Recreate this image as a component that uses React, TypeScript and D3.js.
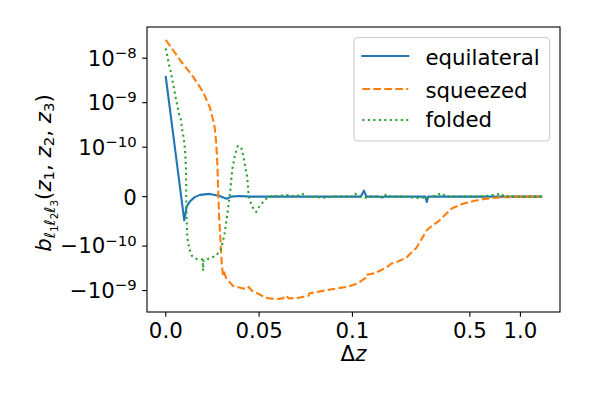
import { useEffect, useRef } from "react";
import * as d3 from "d3";

type Pt = [number, number];

// Δz, b values
const equilateral: Pt[] = [
  [0, 3.8e-9], [0.0099, -4.8e-11], [0.0112, -2e-11], [0.0129, -1e-11], [0.0155, -1e-12],
  [0.0183, 3.5e-12], [0.0236, 5.5e-12], [0.0289, 1.4e-12], [0.0325, -4.1e-12], [0.0351, 0],
  [0.0395, 1.4e-12], [0.045, 0], [0.06, 0], [0.08, 0], [0.1, 0], [0.112, 0],
  [0.117, 1.2e-11], [0.121, 0], [0.145, 0], [0.15, -2e-12], [0.155, 0], [0.2, 0],
  [0.272, 0], [0.277, -1.1e-11], [0.282, 0], [0.35, 0], [0.5, 0], [0.7, 0], [1.0, 0], [1.33, 0],
];

const squeezed: Pt[] = [
  [0, 2.57e-8], [0.0076, 9.1e-9], [0.0147, 3.8e-9], [0.02, 1.74e-9], [0.0236, 7.9e-10],
  [0.025, 4.7e-10], [0.0262, 2.8e-10], [0.027, 1.27e-10], [0.0277, 6.1e-11], [0.028, 2e-11],
  [0.0285, -3.4e-11], [0.0293, -8.9e-11], [0.03, -2.53e-10], [0.0306, -4.3e-10], [0.031, -3.6e-10],
  [0.0325, -5.5e-10], [0.034, -6.3e-10], [0.036, -7.9e-10], [0.04, -8.6e-10], [0.043, -9.3e-10],
  [0.0445, -8.3e-10], [0.046, -1.0e-9], [0.0484, -1.12e-9], [0.0537, -1.44e-9], [0.0555, -1.5e-9],
  [0.06, -1.55e-9], [0.0626, -1.5e-9], [0.0644, -1.3e-9], [0.066, -1.5e-9], [0.0714, -1.45e-9],
  [0.0765, -1.3e-9], [0.077, -1.15e-9], [0.08, -1.1e-9], [0.0891, -9.3e-10], [0.098, -8.1e-10],
  [0.108, -6.8e-10], [0.12, -5.2e-10], [0.121, -4.4e-10], [0.135, -4.1e-10], [0.15, -3.4e-10],
  [0.164, -2.8e-10], [0.17, -2.5e-10], [0.188, -2.2e-10], [0.21, -1.8e-10], [0.226, -1.35e-10],
  [0.24, -1.1e-10], [0.259, -8.5e-11], [0.277, -6.8e-11], [0.3, -5.8e-11], [0.325, -5.0e-11],
  [0.36, -3.5e-11], [0.39, -2.4e-11], [0.45, -1.5e-11], [0.512, -1.0e-11], [0.6, -5e-12],
  [0.671, -3e-12], [0.8, -1e-12], [0.925, 0], [1.33, 0],
];

const folded: Pt[] = [
  [0, 1.66e-8], [0.00085, 1.08e-8], [0.00176, 7.0e-9], [0.0027, 4.9e-9], [0.0035, 3.2e-9],
  [0.0044, 2.1e-9], [0.0053, 1.3e-9], [0.0062, 8.6e-10], [0.0071, 5.6e-10], [0.008, 4.3e-10],
  [0.0088, 2.5e-10], [0.0097, 1.5e-10], [0.0103, 9.5e-11], [0.0106, 7.5e-11], [0.0108, 5.9e-11],
  [0.0109, 3.4e-11], [0.011, -7e-12], [0.0112, -4.8e-11], [0.0115, -8.2e-11], [0.0126, -1.15e-10],
  [0.0139, -1.64e-10], [0.0165, -1.95e-10], [0.0198, -2.0e-10], [0.02, -3.6e-10], [0.0202, -2.1e-10],
  [0.0236, -1.88e-10], [0.027, -1.64e-10], [0.0297, -1.15e-10], [0.0315, -7.5e-11], [0.0333, -2.7e-11],
  [0.0346, 1.4e-11], [0.0356, 5.5e-11], [0.036, 6.2e-11], [0.0369, 8.2e-11], [0.0386, 1.06e-10],
  [0.0404, 1.0e-10], [0.0417, 7.9e-11], [0.0427, 5.8e-11], [0.0436, 4.1e-11], [0.0445, 0],
  [0.0462, -2.0e-11], [0.0484, -3.1e-11], [0.0502, -2.0e-11], [0.0529, -7e-12], [0.0555, 0],
  [0.065, 3e-12], [0.07, 0], [0.073, 6e-12], [0.076, 0], [0.085, -2e-12], [0.09, 0], [0.1, 0],
  [0.104, 6e-12], [0.108, 0], [0.12, -2e-12], [0.13, 0], [0.15, 0], [0.155, 6e-12], [0.16, 0],
  [0.2, 0], [0.25, -3e-12], [0.3, 0], [0.34, 7e-12], [0.36, 0], [0.45, 0], [0.6, 0],
  [0.77, 6e-12], [0.8, 0], [1.0, 0], [1.33, 0],
];

const series = [
  { name: "equilateral", data: equilateral, color: "#1f77b4", dash: null, cap: "square" },
  { name: "squeezed", data: squeezed, color: "#ff7f0e", dash: "7.7 3.3", cap: "butt" },
  { name: "folded", data: folded, color: "#2ca02c", dash: "2.1 3.4", cap: "butt" },
];

const xTicks = [0, 0.05, 0.1, 0.5, 1.0];
const xTickLabels = ["0.0", "0.05", "0.1", "0.5", "1.0"];
const yTicks = [1e-8, 1e-9, 1e-10, 0, -1e-10, -1e-9];
const yTickLabels: [string, string][] = [
  ["10", "\u22128"], ["10", "\u22129"], ["10", "\u221210"], ["0", ""],
  ["\u221210", "\u221210"], ["\u221210", "\u22129"],
];

// matplotlib-style symlog (base 10, linscale 1)
const symlog = (t: number) => (v: number) => {
  const a = Math.abs(v);
  const ls = 1 / (1 - 1 / 10);
  const r = a <= t ? (a / t) * ls : ls + Math.log10(a / t);
  return Math.sign(v) * r;
};

export default function App() {
  const ref = useRef<SVGSVGElement>(null);

  useEffect(() => {
    const svg = d3.select(ref.current);
    svg.selectAll("*").remove();

    const W = 590, H = 393;
    const left = 147, right = 560, top = 27, bottom = 312;
    const F = 21.3, FS = 14.9;
    const font = "DejaVu Sans";

    const tx = symlog(0.1);
    const ty = symlog(1e-10);

    const all = series.flatMap((s) => s.data);
    const [x0, x1] = d3.extent(all, (d) => tx(d[0])) as [number, number];
    const [y0, y1] = d3.extent(all, (d) => ty(d[1])) as [number, number];
    const mx = (x1 - x0) * 0.05, my = (y1 - y0) * 0.05;

    const x = d3.scaleLinear().domain([x0 - mx, x1 + mx]).range([left, right]);
    const y = d3.scaleLinear().domain([y0 - my, y1 + my]).range([bottom, top]);
    const X = (v: number) => x(tx(v));
    const Y = (v: number) => y(ty(v));

    svg.append("rect").attr("width", W).attr("height", H).attr("fill", "white");

    const line = d3.line<Pt>().x((d) => X(d[0])).y((d) => Y(d[1]));

    for (const s of series) {
      svg.append("path")
        .attr("d", line(s.data))
        .attr("fill", "none")
        .attr("stroke", s.color)
        .attr("stroke-width", 2.1)
        .attr("stroke-linejoin", "round")
        .attr("stroke-linecap", s.cap)
        .attr("stroke-dasharray", s.dash);
    }

    // frame
    svg.append("rect")
      .attr("x", left).attr("y", top)
      .attr("width", right - left).attr("height", bottom - top)
      .attr("fill", "none").attr("stroke", "black").attr("stroke-width", 1.1);

    // x ticks
    xTicks.forEach((v, i) => {
      const px = X(v);
      svg.append("line").attr("x1", px).attr("x2", px).attr("y1", bottom).attr("y2", bottom + 4.8)
        .attr("stroke", "black").attr("stroke-width", 1.1);
      svg.append("text").attr("x", px).attr("y", bottom + 26)
        .attr("text-anchor", "middle").attr("font-family", font).attr("font-size", F)
        .text(xTickLabels[i]);
    });

    // y ticks
    yTicks.forEach((v, i) => {
      const py = Y(v);
      svg.append("line").attr("x1", left - 4.8).attr("x2", left).attr("y1", py).attr("y2", py)
        .attr("stroke", "black").attr("stroke-width", 1.1);
      const [base, sup] = yTickLabels[i];
      const t = svg.append("text").attr("x", left - 10.3).attr("y", py + (sup ? 7.4 : 8))
        .attr("text-anchor", "end").attr("font-family", font).attr("font-size", F);
      t.append("tspan").text(base);
      if (sup) t.append("tspan").attr("font-size", FS).attr("dy", -7.6).text(sup);
    });

    // x label
    const xl = svg.append("text").attr("x", (left + right) / 2).attr("y", 361)
      .attr("text-anchor", "middle").attr("font-family", font).attr("font-size", F);
    xl.append("tspan").text("\u0394");
    xl.append("tspan").attr("font-style", "italic").text("z");

    // y label: b_{l1 l2 l3}(z1, z2, z3)
    const yl = svg.append("text")
      .attr("transform", "translate(51,173) rotate(-90)")
      .attr("text-anchor", "middle").attr("font-family", font).attr("font-size", F);
    const parts: [string, number, number, boolean][] = [
      ["b", F, 0, true],
      ["\u2113", FS, 3.6, true], ["1", 10.4, 3, false],
      ["\u2113", FS, -3, true], ["2", 10.4, 3, false],
      ["\u2113", FS, -3, true], ["3", 10.4, 3, false],
      ["(", F, -6.6, false],
      ["z", F, 0, true], ["1", FS, 3, false], [", ", F, -3, false],
      ["z", F, 0, true], ["2", FS, 3, false], [", ", F, -3, false],
      ["z", F, 0, true], ["3", FS, 3, false], [")", F, -3, false],
    ];
    for (const [s, size, dy, it] of parts) {
      yl.append("tspan").attr("font-size", size).attr("dy", dy)
        .attr("font-style", it ? "italic" : "normal").text(s);
    }

    // legend
    const lg = svg.append("g");
    lg.append("rect").attr("x", 354).attr("y", 37.5).attr("width", 195.7).attr("height", 103.5)
      .attr("rx", 4).attr("fill", "white").attr("fill-opacity", 0.8)
      .attr("stroke", "#cccccc").attr("stroke-width", 1.1);
    const rows = [56, 89, 120];
    const base = [65, 97.5, 126.5];
    series.forEach((s, i) => {
      lg.append("line").attr("x1", 362.3).attr("x2", 408.3).attr("y1", rows[i]).attr("y2", rows[i])
        .attr("stroke", s.color).attr("stroke-width", 2.1)
        .attr("stroke-linecap", s.cap).attr("stroke-dasharray", s.dash);
      lg.append("text").attr("x", 425.5).attr("y", base[i])
        .attr("font-family", font).attr("font-size", F).text(s.name);
    });
  }, []);

  return (
    <svg ref={ref} width={590} height={393}
      style={{ position: "absolute", left: 0, top: 0, display: "block" }} />
  );
}
